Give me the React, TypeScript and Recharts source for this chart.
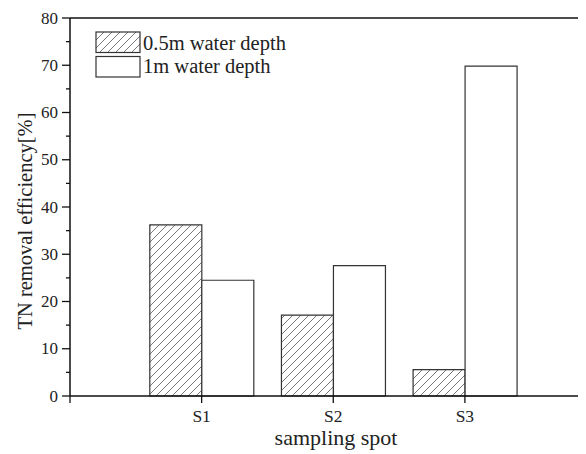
import React from 'react';
import { Bar, BarChart, ReferenceLine, XAxis, YAxis } from 'recharts';

const categories = ['S1', 'S2', 'S3'];
const shallowDepth = [36.2, 17.1, 5.6];
const deepDepth = [24.5, 27.6, 69.8];
const yTicks = [0, 5, 10, 15, 20, 25, 30, 35, 40, 45, 50, 55, 60, 65, 70, 75, 80];
const xTicks = [0, 1, 2, 3];

const data = categories.map((name, i) => ({
  x: i + 1,
  name,
  shallow: shallowDepth[i],
  deep: deepDepth[i],
}));

const FONT = '"Liberation Serif", "Times New Roman", serif';
const INK = '#111';

const YTick = (props: any) => {
  const { x, y, payload } = props;
  const major = payload.value % 10 === 0;
  return (
    <g>
      <line x1={x - (major ? 8 : 4)} x2={x} y1={y} y2={y} stroke={INK} strokeWidth={1.3} />
      {major && (
        <text x={x - 12} y={y} dy={5.5} textAnchor="end" fontSize={17} fontFamily={FONT} fill="#222">
          {payload.value}
        </text>
      )}
    </g>
  );
};

const XTick = (props: any) => {
  const { x, y, payload } = props;
  const label = categories[payload.value - 1];
  return (
    <g>
      <line x1={x} x2={x} y1={y} y2={y + 7} stroke={INK} strokeWidth={1.3} />
      {label && (
        <text x={x} y={y + 26} textAnchor="middle" fontSize={17.5} fontFamily={FONT} fill="#222">
          {label}
        </text>
      )}
    </g>
  );
};

const Hatch = ({ id }: { id: string }) => (
  <pattern id={id} patternUnits="userSpaceOnUse" width={8} height={8}>
    <path d="M0,8 L8,0 M-2,2 L2,-2 M6,10 L10,6" stroke="#555" strokeWidth={0.8} />
  </pattern>
);

export default function App() {
  return (
    <div style={{ position: 'relative', width: 578, height: 446 }}>
      <BarChart
        width={578}
        height={446}
        data={data}
        margin={{ top: 10, right: 0, bottom: 0, left: 0 }}
        barGap={0}
      >
        <defs>
          <Hatch id="hatch" />
        </defs>
        <XAxis
          dataKey="x"
          type="number"
          domain={[0, 3.92]}
          allowDataOverflow
          ticks={xTicks}
          interval={0}
          height={58}
          tickSize={0}
          tickMargin={0}
          tickLine={false}
          tick={<XTick />}
          axisLine={{ stroke: INK, strokeWidth: 1.5 }}
        />
        <YAxis
          type="number"
          domain={[0, 80]}
          ticks={yTicks}
          interval={0}
          width={62}
          tickSize={0}
          tickMargin={0}
          tickLine={false}
          tick={<YTick />}
          axisLine={{ stroke: INK, strokeWidth: 1.5 }}
        />
        <ReferenceLine y={80} stroke={INK} strokeWidth={1.5} />
        <Bar
          dataKey="shallow"
          barSize={52}
          fill="url(#hatch)"
          stroke="#333"
          strokeWidth={1.2}
          isAnimationActive={false}
        />
        <Bar
          dataKey="deep"
          barSize={52}
          fill="#fff"
          stroke="#333"
          strokeWidth={1.2}
          isAnimationActive={false}
        />
      </BarChart>
      <svg
        width={578}
        height={446}
        style={{ position: 'absolute', left: 0, top: 0, pointerEvents: 'none' }}
      >
        <defs>
          <Hatch id="hatch-legend" />
        </defs>
        {/* legend */}
        <rect x={88} y={24} width={44} height={20.5} fill="url(#hatch-legend)" stroke="#333" strokeWidth={1.2} />
        <text x={135} y={42} fontSize={20.5} fontFamily={FONT} fill="#222">
          0.5m water depth
        </text>
        <rect x={88} y={48.5} width={44} height={20.5} fill="#fff" stroke="#333" strokeWidth={1.2} />
        <text x={135} y={64.5} fontSize={20.5} fontFamily={FONT} fill="#222">
          1m water depth
        </text>
        {/* axis titles */}
        <text
          x={17}
          y={213}
          transform="rotate(-90 17 213)"
          textAnchor="middle"
          dominantBaseline="central"
          fontSize={20.5}
          fontFamily={FONT}
          fill="#222"
        >
          TN removal efficiency[%]
        </text>
        <text x={328} y={437} textAnchor="middle" fontSize={22} fontFamily={FONT} fill="#222">
          sampling spot
        </text>
      </svg>
    </div>
  );
}
